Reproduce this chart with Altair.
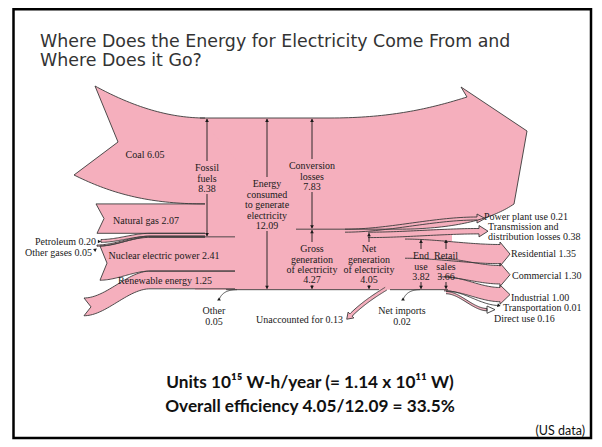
import altair as alt
import numpy as np
import pandas as pd

# ---------------- data (units: 10^15 W-h / year) ----------------
src_names = ["Coal", "Natural gas", "Petroleum", "Other gases", "Nuclear electric power", "Renewable energy"]
src_values = [6.05, 2.07, 0.20, 0.05, 2.41, 1.25]
other_value = 0.05
fossil_value = 8.38
consumed_value = 12.09
loss_value = 7.83
gross_value = 4.27
plant_use_value = 0.21
net_value = 4.05
unacc_value = 0.13
imports_value = 0.02
td_value = 0.38
end_use_value = 3.82
retail_value = 3.66
sector_names = ["Residential", "Commercial", "Industrial", "Transportation"]
sector_values = [1.35, 1.30, 1.00, 0.01]
direct_value = 0.16

title_lines = ["Where Does the Energy for Electricity Come From and", "Where Does it Go?"]
note_lines = ["Units 10\u00b9\u2075 W-h/year (= 1.14 x 10\u00b9\u00b9 W)",
              "Overall efficiency 4.05/12.09 = 33.5%"]
source_note = "(US data)"

# ---------------- layout / style ----------------
K = 14.2          # px per unit
TOP = 118.0
PINK = "#F5AFBD"
EDGE = "#3a3a3a"
INK = "#1a1a1a"
SERIF = "Liberation Serif"

poly_rows, edge_rows = [], []


def add(rows, name, pts):
    for i, (x, y) in enumerate(pts):
        rows.append({"id": name, "i": i, "x": float(x), "y": float(y)})


def cubic(p0, p1, p2, p3, n=40):
    t = np.linspace(0, 1, n)[:, None]
    P = [np.array(p, float) for p in (p0, p1, p2, p3)]
    pts = (1 - t) ** 3 * P[0] + 3 * (1 - t) ** 2 * t * P[1] + 3 * (1 - t) * t ** 2 * P[2] + t ** 3 * P[3]
    return [tuple(p) for p in pts]


def sband(x0, y0, x1, y1, w, xflat=None, n=40):
    xm = x1 if xflat is None else xflat
    t = np.linspace(0, 1, n)
    s = t * t * (3 - 2 * t)
    xs = x0 + (xm - x0) * t
    top = y0 + (y1 - y0) * s
    tp = list(zip(xs, top))
    bt = list(zip(xs, top + w))
    if xflat is not None:
        tp.append((x1, y1))
        bt.append((x1, y1 + w))
    return tp, bt


def shape(name, top, bot, tail=(), head=(), open_left=False, open_right=False, edge=True):
    poly = list(top) + list(head) + list(bot[::-1]) + list(tail)
    add(poly_rows, name, poly)
    if not edge:
        return
    if open_right:
        add(edge_rows, name, list(bot[::-1]) + list(tail) + list(top))
    elif open_left:
        add(edge_rows, name, list(top) + list(head) + list(bot[::-1]))
    else:
        add(edge_rows, name, poly + [poly[0]])


def ribbon(center, w):
    c = np.array(center)
    d = np.gradient(c, axis=0)
    d = d / np.linalg.norm(d, axis=1)[:, None]
    nr = np.stack([-d[:, 1], d[:, 0]], axis=1)
    return c + nr * w / 2, c - nr * w / 2, d[-1], nr[-1]


w = [v * K for v in src_values]
BOT = TOP + consumed_value * K

# --- sources ---
c0, c1 = TOP, TOP + w[0]
shape("coal",
      cubic((95, 86), (128, 104), (165, c0), (205, c0)),
      cubic((74, 175), (112, 194), (150, c1), (205, c1)),
      tail=[(118, 142)], open_right=True)
g0, g1 = c1, c1 + w[1]
shape("gas", [(96, g0), (205, g0)], [(97, g1), (205, g1)], tail=[(104, (g0 + g1) / 2)], open_right=True)
p0 = g1
t_, b_ = sband(101, 239.5, 205, p0, w[2], xflat=150)
shape("petroleum", t_, b_, open_right=True)
o0 = p0 + w[2]
t_, b_ = sband(97, 245.0, 205, o0, max(w[3], 1.2), xflat=150)
shape("othergas", t_, b_, open_right=True)
n0 = o0 + w[3]
t_, b_ = sband(100, 246, 235, n0, w[4], xflat=150)
shape("nuclear", t_, b_, tail=[(107, 246 + w[4] / 2)], open_right=True)
r0 = n0 + w[4]
t_, b_ = sband(84, 298, 235, r0, w[5], xflat=150)
shape("renew", t_, b_, tail=[(91, 298 + w[5] / 2)], open_right=True)

# trunk
add(poly_rows, "trunk", [(195, TOP), (340, TOP), (340, BOT), (195, BOT)])
add(edge_rows, "trunkbot1", [(226, BOT), (379, BOT)])
add(edge_rows, "trunkbot2", [(390, BOT), (448, BOT)])

# conversion losses
lb = TOP + loss_value * K
shape("losses",
      [(200, TOP)] + cubic((330, TOP), (392, TOP), (432, 108), (467, 97)),
      [(296, lb)] + cubic((398, lb), (455, lb), (492, 219), (514, 204)),
      head=[(461, 87), (527, 131)], open_left=True)

# gross generation body
add(poly_rows, "gross", [(330, lb), (452, lb), (452, BOT), (330, BOT)])

# power plant use
w_ppu = max(plant_use_value * K, 3.0)
t_, b_ = sband(345, lb, 477, 217, w_ppu)
shape("ppu", t_, b_, head=[(477, 214), (485, 217 + w_ppu / 2), (477, 217 + w_ppu + 3)], open_left=True)
# transmission & distribution losses
w_td = td_value * K
t_, b_ = sband(368, lb + w_ppu, 479, 228.5, w_td)
shape("td", t_, b_, head=[(479, 225.5), (488, 228.5 + w_td / 2), (479, 228.5 + w_td + 3)], open_left=True)

# sectors
s_top = lb + (plant_use_value + td_value) * K + 1.5
ends = [244.5, 265.5, 287.5]
starts_x = [405, 438, 444]
y_s = s_top
for nm, v, x0, ye in zip(sector_names[:3], sector_values[:3], starts_x, ends):
    ww = v * K
    t_, b_ = sband(x0, y_s, 500, ye, ww)
    shape(nm, t_, b_, head=[(500, ye - 2.5), (510, ye + ww / 2), (500, ye + ww + 2.5)], open_left=True)
    y_s += ww
# transportation (hairline)
t_, b_ = sband(446, y_s, 499, 305.5, 0.0)
add(edge_rows, "transport", t_)
y_s += sector_values[3] * K
w_du = max(direct_value * K, 2.3)
t_, b_ = sband(446, y_s + 0.4, 487, 308.5, w_du)
shape("direct", t_, b_, open_left=True)
du_head = [(487, 306), (495, 308.5 + w_du / 2), (487, 311 + w_du)]
add(edge_rows, "directhead", du_head + [du_head[0]])

# unaccounted (leaves the bottom, heading down-left)
w_un = max(unacc_value * K, 3.2)
L, R, d_end, n_end = ribbon(cubic((386, BOT - 1), (379, 293), (364, 302), (351, 315)), w_un)
e = (L[-1] + R[-1]) / 2
head = [tuple(e + n_end * (w_un / 2 + 2.5)), tuple(e + d_end * 6), tuple(e - n_end * (w_un / 2 + 2.5))]
shape("unacc", [tuple(p) for p in L], [tuple(p) for p in R], head=head, open_left=True)

# other (input) and net imports (input): hairlines from below
add(edge_rows, "otherin", cubic((219, 300), (221, 294), (226, BOT), (237, BOT)))
add(edge_rows, "imports", cubic((403, 300), (405, 294), (410, BOT), (420, BOT)))

# ---------------- dimension arrows ----------------
dims = [
    (207, TOP, TOP + fossil_value * K, ["Fossil", "fuels", f"{fossil_value:.2f}"], [168, 178.5, 189]),
    (267, TOP, BOT, ["Energy", "consumed", "to generate", "electricity", f"{consumed_value:.2f}"],
     [184, 194.5, 205, 215.5, 226]),
    (312, TOP, lb, ["Conversion", "losses", f"{loss_value:.2f}"], [166, 176.5, 187]),
    (312, lb, BOT, ["Gross", "generation", "of electricity", f"{gross_value:.2f}"], [249, 259.5, 270, 280]),
    (369, lb + w_ppu, BOT, ["Net", "generation", "of electricity", f"{net_value:.2f}"], [249, 259.5, 270, 280]),
    (421, s_top, BOT, ["End", "use", f"{end_use_value:.2f}"], [256, 266.5, 277]),
    (446, s_top, BOT, ["Retail", "sales", f"{retail_value:.2f}"], [256, 266.5, 277]),
]
rule_rows, head_rows, center_txt = [], [], []
for x, y0, y1, lines, ys in dims:
    rule_rows.append({"x": x, "y": y0 + 1, "y2": ys[0] - 7})
    rule_rows.append({"x": x, "y": ys[-1] + 5, "y2": y1 - 1})
    head_rows.append({"x": x, "y": y0 + 2.4, "a": 0})
    head_rows.append({"x": x, "y": y1 - 2.4, "a": 180})
    for t, yy in zip(lines, ys):
        center_txt.append({"x": x, "y": yy, "t": t})

# small pointer heads
head_rows += [
    {"x": 99.5, "y": 241.5, "a": 90},
    {"x": 95.5, "y": 249.5, "a": 55},
    {"x": 219, "y": 299, "a": 0},
    {"x": 403, "y": 299, "a": 0},
    {"x": 499, "y": 305.5, "a": 105},
]

# ---------------- labels ----------------
center_txt += [
    {"x": 145, "y": 155, "t": f"{src_names[0]} {src_values[0]:.2f}"},
    {"x": 146, "y": (g0 + g1) / 2 + 2, "t": f"{src_names[1]} {src_values[1]:.2f}"},
    {"x": 164, "y": n0 + w[4] / 2 + 2, "t": f"{src_names[4]} {src_values[4]:.2f}"},
    {"x": 165, "y": r0 + w[5] / 2 + 1, "t": f"{src_names[5]} {src_values[5]:.2f}"},
    {"x": 214, "y": 311, "t": "Other"},
    {"x": 214, "y": 321.5, "t": f"{other_value:.2f}"},
    {"x": 402, "y": 311, "t": "Net imports"},
    {"x": 402, "y": 321.5, "t": f"{imports_value:.2f}"},
]
left_txt = [
    {"x": 484, "y": 217, "t": f"Power plant use {plant_use_value:.2f}"},
    {"x": 488, "y": 226.5, "t": "Transmission and"},
    {"x": 488, "y": 237, "t": f"distribution losses {td_value:.2f}"},
    {"x": 511, "y": 253.5, "t": f"{sector_names[0]} {sector_values[0]:.2f}"},
    {"x": 512, "y": 275.5, "t": f"{sector_names[1]} {sector_values[1]:.2f}"},
    {"x": 511, "y": 297.5, "t": f"{sector_names[2]} {sector_values[2]:.2f}"},
    {"x": 503, "y": 308, "t": f"{sector_names[3]} {sector_values[3]:.2f}"},
    {"x": 494, "y": 319, "t": f"Direct use {direct_value:.2f}"},
]
right_txt = [
    {"x": 96, "y": 242, "t": f"{src_names[2]} {src_values[2]:.2f}"},
    {"x": 92, "y": 253, "t": f"{src_names[3]} {src_values[3]:.2f}"},
    {"x": 343, "y": 320, "t": f"Unaccounted for {unacc_value:.2f}"},
]

# ---------------- chart ----------------
xs = alt.Scale(domain=[8, 594], nice=False, zero=False)
ys_ = alt.Scale(domain=[8, 439], nice=False, zero=False, reverse=True)
X = alt.X("x:Q", scale=xs, axis=None)
Y = alt.Y("y:Q", scale=ys_, axis=None)

fill = alt.Chart(pd.DataFrame(poly_rows)).mark_line(fill=PINK, strokeOpacity=0).encode(
    x=X, y=Y, detail="id:N", order="i:Q")
edges = alt.Chart(pd.DataFrame(edge_rows)).mark_line(color=EDGE, strokeWidth=0.9).encode(
    x=X, y=Y, detail="id:N", order="i:Q")
rules = alt.Chart(pd.DataFrame(rule_rows)).mark_rule(color=INK, strokeWidth=0.9).encode(
    x=X, y=Y, y2="y2:Q")
heads = alt.Chart(pd.DataFrame(head_rows)).mark_point(
    shape="triangle-up", filled=True, color=INK, size=14, opacity=1).encode(
    x=X, y=Y, angle=alt.Angle("a:Q", scale=None))


def text_layer(rows, align, font=SERIF, size=10, weight="normal", color=INK):
    return alt.Chart(pd.DataFrame(rows)).mark_text(
        align=align, baseline="middle", font=font, fontSize=size, fontWeight=weight, color=color
    ).encode(x=X, y=Y, text="t:N")


t_center = text_layer(center_txt, "center")
t_left = text_layer(left_txt, "left")
t_right = text_layer(right_txt, "right")
title = text_layer([{"x": 40, "y": 41.5, "t": title_lines[0]}, {"x": 40, "y": 61, "t": title_lines[1]}],
                   "left", font="DejaVu Sans", size=17.4, color="#333333")
notes = text_layer([{"x": 310, "y": 382.5, "t": note_lines[0]}, {"x": 310, "y": 406.5, "t": note_lines[1]}],
                   "center", font="Lato", size=17.2, weight="bold", color="#111111")
us = text_layer([{"x": 585, "y": 430.5, "t": source_note}], "right", font="Lato", size=12.5, color="#111111")
frame = alt.Chart(pd.DataFrame([{"x": 13.5, "x2": 591, "y": 9.3, "y2": 438}])).mark_rect(
    fill="transparent", stroke="black", strokeWidth=2.5).encode(x=X, x2="x2:Q", y=Y, y2="y2:Q")

chart = alt.layer(fill, edges, rules, heads, t_center, t_left, t_right, title, notes, us, frame).properties(
    width=586, height=431, padding=0, background="white"
).configure_view(stroke=None)

chart.save("out.html", embed_options={"renderer": "svg", "actions": False})
